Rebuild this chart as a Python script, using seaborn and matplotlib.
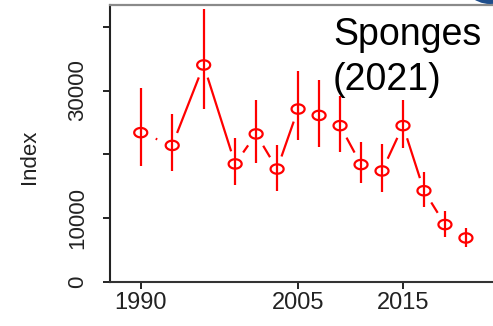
import matplotlib
matplotlib.use("Agg")
import numpy as np
import pandas as pd
import seaborn as sns
import matplotlib.pyplot as plt
from matplotlib.path import Path
from matplotlib.patches import Circle
from matplotlib.transforms import IdentityTransform

# Survey index for sponges with uncertainty intervals
years = [1990, 1993, 1996, 1999, 2001, 2003, 2005, 2007, 2009, 2011, 2013, 2015, 2017, 2019, 2021]
index = [23400, 21400, 34000, 18500, 23200, 17700, 27100, 26100, 24500, 18400, 17400, 24500, 14300, 9000, 6900]
lower = [18100, 17400, 27100, 15200, 18600, 14300, 22300, 21200, 20400, 15500, 14100, 21000, 11800, 7100, 5500]
upper = [30400, 26400, 42700, 22500, 28500, 21500, 33100, 31700, 29200, 22000, 21600, 28500, 17300, 11200, 8400]

x_ticks = [1990, 2005, 2015]
y_ticks = [0, 10000, 20000, 30000, 40000]
y_tick_labels = ["0", "10000", "", "30000", ""]

df = pd.DataFrame({"year": years, "index": index, "lower": lower, "upper": upper})

sns.set_theme(style="white")
plt.rcParams["font.family"] = ["Liberation Sans", "DejaVu Sans"]

W, H = 493, 326
fig = plt.figure(figsize=(W / 100, H / 100), dpi=100)
ax = fig.add_axes([110 / W, 44 / H, 383 / W, 277 / H])
ax.set_xlim(1987.07, 2023.58)
ax.set_ylim(0, 43400)

red = "#ff0000"
lw = 1.6

# vertical interval bars
ax.vlines(df["year"], df["lower"], df["upper"], color=red, lw=lw, zorder=2)

# open elliptical point markers
theta = np.linspace(0, 2 * np.pi, 73)
ellipse = Path(np.column_stack([np.cos(theta), 0.72 * np.sin(theta)]), closed=True)
sns.scatterplot(data=df, x="year", y="index", marker=ellipse, s=88,
                color=red, edgecolor=red, linewidth=lw, ax=ax, zorder=3)
ax.collections[-1].set_facecolor("none")

# connecting segments that stop short of each point (points-and-lines style)
trans = ax.transData
pts = trans.transform(np.column_stack([df["year"], df["index"]]))
gap, stretch = 13.0, 1.3
for p1, p2 in zip(pts[:-1], pts[1:]):
    d = p2 - p1
    dist = np.hypot(d[0] / stretch, d[1])
    t = gap / dist
    if 2 * t < 1:
        a, b = trans.inverted().transform(np.vstack([p1 + t * d, p2 - t * d]))
        ax.plot([a[0], b[0]], [a[1], b[1]], color=red, lw=lw,
                solid_capstyle="butt", zorder=2)

# axes styling
ax.set_xticks(x_ticks)
ax.set_xticklabels([str(v) for v in x_ticks])
ax.set_yticks(y_ticks)
ax.set_yticklabels(y_tick_labels)
ax.tick_params(axis="x", bottom=True, length=5, width=1.4, pad=2.5,
               labelsize=17, colors="#222222")
ax.tick_params(axis="y", left=True, length=5, width=1.4, pad=11,
               labelsize=16, labelrotation=90, colors="#222222")
for lab in ax.get_yticklabels():
    lab.set_va("center")
ax.set_xlabel("")
ax.set_ylabel("Index", fontsize=16, color="#222222")
ax.yaxis.set_label_coords(-0.184, 0.451)

ax.spines["left"].set_color("#222222")
ax.spines["left"].set_linewidth(1.5)
ax.spines["bottom"].set_color("#333333")
ax.spines["bottom"].set_linewidth(1.5)
ax.spines["top"].set_color("#8a8a8a")
ax.spines["top"].set_linewidth(1.6)
ax.spines["right"].set_visible(False)

# title block
fig.text(333 / W, (H - 45) / H, "Sponges", fontsize=27, ha="left", va="baseline", color="black")
fig.text(333 / W, (H - 90) / H, "(2021)", fontsize=27, ha="left", va="baseline", color="black")

# corner badge
fig.patches.append(Circle((490, H + 26), radius=30, transform=IdentityTransform(),
                          facecolor="#1f4e8c", edgecolor="none", zorder=5))

fig.savefig("out.png", dpi=100)
